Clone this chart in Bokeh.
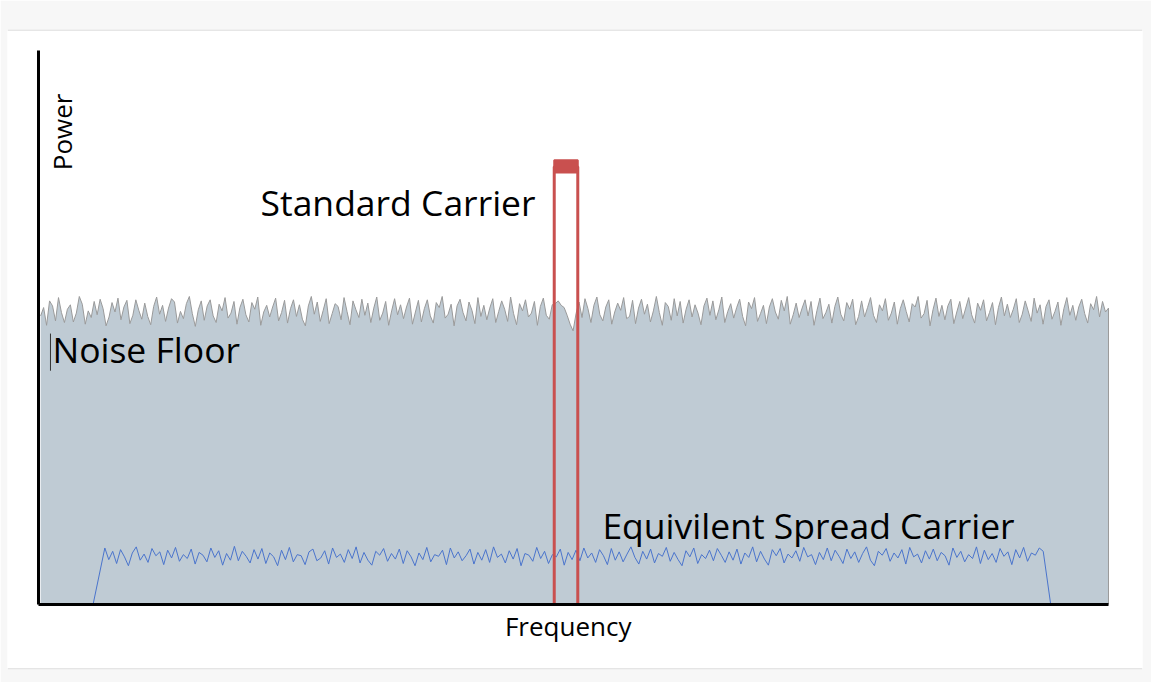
import numpy as np
from bokeh.plotting import figure
from bokeh.embed import file_html
from bokeh.resources import INLINE
from bokeh.core.properties import value

# ---------------- data ----------------
noise_floor = [
    52.1, 53.6, 50.4, 54.8, 53.9, 51.2, 55.4, 52.7, 50.9, 53.3, 54.1, 51.0, 52.6, 55.6, 54.2, 50.6, 53.0, 51.8, 54.7, 52.3,
    55.1, 53.4, 50.3, 51.9, 54.5, 52.8, 55.3, 51.4, 53.7, 54.9, 50.7, 52.2, 55.0, 53.1, 51.5, 54.4, 52.0, 50.5, 53.8, 55.5,
    52.4, 54.0, 51.1, 53.5, 55.2, 54.6, 50.8, 52.9, 51.6, 54.3, 55.6, 52.5, 50.2, 53.2, 54.8, 51.3, 53.9, 55.0, 52.1, 50.9,
    54.2, 53.0, 55.4, 51.7, 52.6, 54.7, 50.6, 53.6, 55.1, 52.3, 51.0, 54.5, 53.3, 55.5, 50.4, 52.8, 54.0, 51.9, 53.7, 55.3,
    51.2, 52.7, 54.9, 50.8, 53.4, 55.0, 52.0, 54.1, 51.5, 50.3, 53.9, 55.6, 52.4, 54.6, 51.1, 53.1, 55.2, 50.7, 52.5, 54.3,
    53.8, 51.4, 55.4, 52.9, 50.5, 54.8, 53.2, 51.8, 55.1, 52.2, 54.4, 50.9, 53.5, 55.5, 51.3, 52.6, 54.7, 50.4, 53.0, 55.2,
    52.3, 54.1, 51.6, 53.7, 55.3, 50.6, 52.8, 54.9, 51.0, 53.4, 55.0, 52.1, 50.8, 54.5, 53.6, 55.6, 51.7, 52.4, 54.2, 50.3,
    53.9, 55.1, 52.7, 51.2, 54.6, 53.1, 50.7, 55.4, 52.0, 54.0, 51.4, 53.5, 55.2, 50.9, 52.9, 54.8, 53.3, 51.1, 55.5, 52.5,
    50.5, 54.3, 53.0, 55.0, 51.9, 52.6, 54.7, 50.4, 53.8, 55.3, 52.2, 51.5, 54.1, 54.3, 54.8, 54.0, 53.6, 52.2, 50.6, 49.4,
    52.5, 54.6, 51.8, 55.2, 53.4, 50.9, 54.0, 55.5, 52.3, 51.2, 53.7, 55.0, 50.6, 52.8, 54.4, 53.1, 55.4, 51.6, 52.0, 54.9,
    50.7, 53.5, 55.1, 52.4, 54.2, 51.0, 53.0, 55.6, 52.7, 50.4, 54.5, 53.8, 51.3, 55.2, 52.1, 54.7, 50.8, 53.3, 55.0, 51.9,
    54.1, 52.6, 50.5, 53.9, 55.3, 52.2, 54.8, 51.4, 53.2, 55.5, 50.9, 52.9, 54.3, 51.7, 53.6, 55.1, 52.0, 50.3, 54.6, 53.4,
    55.4, 51.1, 52.5, 54.0, 50.7, 53.7, 55.2, 52.8, 51.5, 54.9, 53.0, 55.6, 50.6, 52.3, 54.4, 51.8, 53.5, 55.0, 52.1, 54.7,
    50.4, 53.1, 55.3, 51.6, 52.7, 54.2, 50.8, 53.8, 55.5, 52.4, 51.2, 54.5, 53.3, 55.1, 50.5, 52.0, 54.8, 51.9, 53.6, 55.4,
    52.2, 50.9, 54.1, 53.0, 55.2, 51.3, 52.6, 54.6, 50.6, 53.4, 55.0, 52.9, 51.0, 54.3, 53.7, 55.6, 51.7, 52.5, 54.9, 50.3,
    53.2, 55.3, 52.0, 54.0, 51.4, 53.9, 55.1, 50.7, 52.8, 54.7, 51.6, 53.5, 55.4, 52.3, 50.8, 54.4, 53.1, 55.0, 51.2, 52.7,
    54.5, 50.5, 53.6, 55.5, 52.1, 54.2, 51.8, 53.3, 55.2, 50.9, 52.4, 54.8, 53.0, 51.1, 55.3, 52.6, 54.1, 50.6, 53.8, 55.0,
    51.5, 52.9, 54.6, 50.4, 53.4, 55.4, 52.2, 54.0, 51.3, 53.7, 55.1, 52.5, 50.8, 54.3, 53.2, 55.6, 51.9, 54.7, 52.8, 53.5,
]

spread_carrier = [
    10.2, 8.1, 9.6, 7.4, 9.9, 8.6, 7.0, 9.3, 10.4, 8.0, 9.1, 7.6, 10.1, 8.8, 9.5, 7.2, 9.8, 8.4, 10.3, 7.8,
    9.0, 8.3, 10.0, 7.3, 9.4, 8.9, 7.7, 10.2, 8.5, 9.7, 7.1, 9.2, 8.0, 10.5, 7.9, 9.6, 8.7, 7.5, 9.9, 8.2,
    10.1, 7.4, 9.3, 8.6, 7.0, 9.8, 8.1, 10.3, 7.7, 9.0, 8.8, 7.2, 9.5, 10.0, 7.9, 8.4, 9.7, 7.3, 10.2, 8.5,
    9.1, 7.6, 9.9, 8.3, 10.4, 7.5, 9.4, 8.0, 7.1, 9.6, 8.9, 10.1, 7.8, 9.2, 8.2, 10.0, 7.4, 9.7, 8.6, 7.0,
    9.3, 8.1, 10.3, 7.7, 9.0, 8.7, 9.8, 7.2, 10.2, 8.4, 9.5, 7.9, 8.8, 10.0, 7.3, 9.4, 8.0, 9.9, 7.6, 10.4,
    8.5, 9.1, 7.5, 9.7, 8.2, 10.1, 7.0, 9.2, 8.9, 7.8, 10.3, 8.3, 9.6, 7.4, 9.0, 8.6, 10.0, 7.1, 9.4, 8.1,
    9.8, 7.9, 10.2, 8.4, 9.3, 7.6, 9.9, 8.8, 7.2, 10.1, 8.0, 9.5, 7.7, 9.1, 10.4, 8.5, 7.3, 9.6, 8.2, 10.0,
    7.5, 9.2, 8.7, 10.3, 7.8, 9.4, 8.1, 7.0, 9.7, 8.6, 10.2, 7.4, 9.0, 8.3, 9.8, 7.9, 10.1, 8.9, 7.6, 9.5,
    8.0, 10.0, 7.3, 9.3, 8.5, 10.4, 7.7, 9.6, 8.2, 7.1, 9.9, 8.8, 10.1, 7.5, 9.1, 8.4, 9.7, 7.8, 10.3, 8.6,
    9.0, 7.2, 9.4, 8.1, 10.2, 7.9, 9.8, 8.7, 7.4, 10.0, 8.3, 9.5, 7.6, 9.2, 10.4, 8.0, 7.0, 9.6, 8.9, 10.1,
    7.8, 9.3, 8.4, 9.9, 7.3, 10.3, 8.6, 9.1, 7.5, 9.7, 8.2, 10.0, 7.9, 9.4, 8.8, 7.1, 10.2, 8.5, 9.6, 7.7,
    9.0, 8.3, 10.4, 7.4, 9.8, 8.1, 9.2, 7.6, 10.1, 8.7, 9.5, 7.2, 9.9, 8.4, 10.3, 7.8, 9.3, 8.9, 10.2, 9.6,
]
spread_edges = [5.1, 6.2, 93.9, 94.6]       # foot-left, shoulder-left, shoulder-right, foot-right
carrier_edges = [48.2, 50.4]               # standard carrier band
carrier_level = [78.0, 79.0, 80.2]         # lower top, nominal, upper top
labels = ["Standard Carrier", "Noise Floor", "Equivilent Spread Carrier"]

# ---------------- figure ----------------
X0, X1 = -2.897, 103.178
Y0, Y1 = -11.733, 103.79
p = figure(width=1151, height=682, output_backend="svg", toolbar_location=None,
           x_range=(X0, X1), y_range=(Y0, Y1),
           min_border_left=7, min_border_right=9, min_border_top=29, min_border_bottom=13,
           border_fill_color="#f7f7f7", background_fill_color="white",
           outline_line_color=None)
p.axis.visible = False
p.grid.visible = False

FONT = value("Open Sans")

# page rules (top and bottom separators)
p.segment(x0=[X0, X0], y0=[103.70, -11.64], x1=[X1, X1], y1=[103.70, -11.64],
          line_color="#cccccc", line_width=1)

# noise floor
nx = np.linspace(0.2, 100, len(noise_floor))
p.varea(x=nx, y1=0, y2=noise_floor, fill_color="#bfcbd4")
p.line(nx, noise_floor, line_color="#9a9a9a", line_width=1)
p.segment(x0=[nx[-1]], y0=[0], x1=[nx[-1]], y1=[noise_floor[-1]], line_color="#9a9a9a", line_width=1)

# spread carrier
sx = np.concatenate([[spread_edges[0]], np.linspace(spread_edges[1], spread_edges[2], len(spread_carrier)), [spread_edges[3]]])
sy = np.concatenate([[0], spread_carrier, [0]])
p.line(sx, sy, line_color="#4a74cc", line_width=1)

# standard carrier
cx = [carrier_edges[0], carrier_edges[0], carrier_edges[1], carrier_edges[1]]
cy = [0, carrier_level[1], carrier_level[1], 0]
p.line(cx, cy, line_color="#c9504f", line_width=3)
p.quad(left=[carrier_edges[0]], right=[carrier_edges[1]], bottom=[carrier_level[0]], top=[carrier_level[2]],
       fill_color="#c9504f", line_color="#c9504f", line_width=2)

# axes
p.segment(x0=[0, 0], y0=[0, 0], x1=[0, 100], y1=[100, 0], line_color="black", line_width=3)

# text cursor artifact near label
p.segment(x0=[1.12], y0=[42.2], x1=[1.12], y1=[48.9], line_color="#333333", line_width=1)

# labels
p.text(x=[20.75, 1.3, 52.7], y=[72.7, 46.2, 14.4], text=labels,
       text_font=FONT, text_font_size="35.5px", text_color="black",
       text_align="left", text_baseline="alphabetic")
p.text(x=[49.5], y=[-3.9], text=["Frequency"], text_font=FONT, text_font_size="26px",
       text_color="black", text_align="center", text_baseline="alphabetic")
p.text(x=[2.15], y=[85.3], text=["Power"], text_font=FONT, text_font_size="26px",
       text_color="black", text_align="center", text_baseline="alphabetic", angle=np.pi / 2)

open("out.html", "w").write(file_html(p, INLINE))
